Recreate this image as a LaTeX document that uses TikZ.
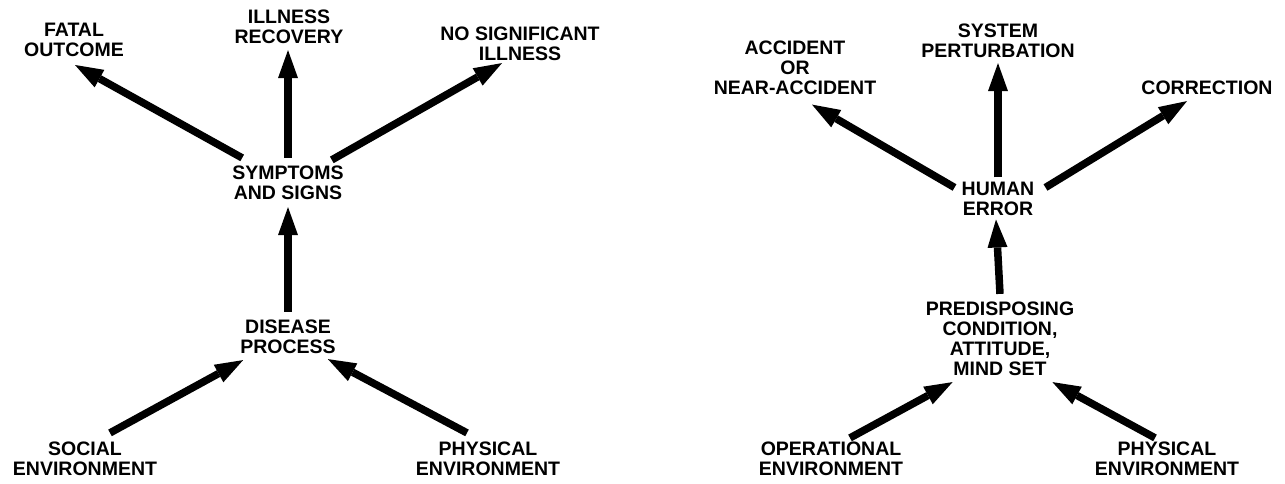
\documentclass[tikz,border=0pt]{standalone}
\usepackage{fontspec}
\setmainfont{Liberation Sans}
\usetikzlibrary{arrows.meta}
\tikzset{
  lbl/.style={font=\bfseries\fontsize{19.5}{20}\selectfont, align=center, inner sep=0pt},
  arr/.style={line width=7.5pt, -{Triangle[length=28pt,width=20pt,line width=0pt]}}
}
\begin{document}
\begin{tikzpicture}[x=1pt,y=-1pt]
    \useasboundingbox (0,0) rectangle (1285,484);
    % illness model
    \node[lbl] (fatal) at (74,40) {FATAL\\OUTCOME};
    \node[lbl] (recov) at (289,27) {ILLNESS\\RECOVERY};
    \node[lbl] (nosig) at (520,44) {NO SIGNIFICANT\\ILLNESS};
    \node[lbl] (sympt) at (288,183) {SYMPTOMS\\AND SIGNS};
    \node[lbl] (disease) at (288,337) {DISEASE\\PROCESS};
    \node[lbl] (social) at (85,459) {SOCIAL\\ENVIRONMENT};
    \node[lbl] (physA) at (488,459) {PHYSICAL\\ENVIRONMENT};
    \draw[arr] ([shift={(10,-8)}]sympt.north west) -- ([shift={(1,8)}]fatal.south);
    \draw[arr] ([shift={(0,-8)}]sympt.north) -- ([shift={(-1,6)}]recov.south);
    \draw[arr] ([shift={(-12,-6)}]sympt.north east) -- ([shift={(-18,2)}]nosig.south);
    \draw[arr] ([shift={(0,-8)}]disease.north) -- ([shift={(0,7)}]sympt.south);
    \draw[arr] ([shift={(25,-9)}]social.north) -- ([shift={(3,6)}]disease.south west);
    \draw[arr] ([shift={(-21,-9)}]physA.north) -- ([shift={(-8,5)}]disease.south east);
    % human error model
    \node[lbl] (accid) at (795,67.5) {ACCIDENT\\OR\\NEAR-ACCIDENT};
    \node[lbl] (sysper) at (998,41) {SYSTEM\\PERTURBATION};
    \node[lbl] (correc) at (1207,88) {CORRECTION};
    \node[lbl] (human) at (998,198.5) {HUMAN\\ERROR};
    \node[lbl] (predis) at (1000,339) {PREDISPOSING\\CONDITION,\\ATTITUDE,\\MIND SET};
    \node[lbl] (operat) at (831,459) {OPERATIONAL\\ENVIRONMENT};
    \node[lbl] (physB) at (1167,459) {PHYSICAL\\ENVIRONMENT};
    \draw[arr] ([shift={(-7,6)}]human.north west) -- ([shift={(17,10)}]accid.south);
    \draw[arr] ([shift={(0,-4)}]human.north) -- ([shift={(0,5)}]sysper.south);
    \draw[arr] ([shift={(11,6)}]human.north east) -- ([shift={(-20,6)}]correc.south);
    \draw[arr] ([shift={(0,-8)}]predis.north) -- ([shift={(-2,4)}]human.south);
    \draw[arr] ([shift={(19,-4)}]operat.north) -- ([shift={(27,6)}]predis.south west);
    \draw[arr] ([shift={(-12,-4)}]physB.north) -- ([shift={(-22,6)}]predis.south east);
\end{tikzpicture}
\end{document}
